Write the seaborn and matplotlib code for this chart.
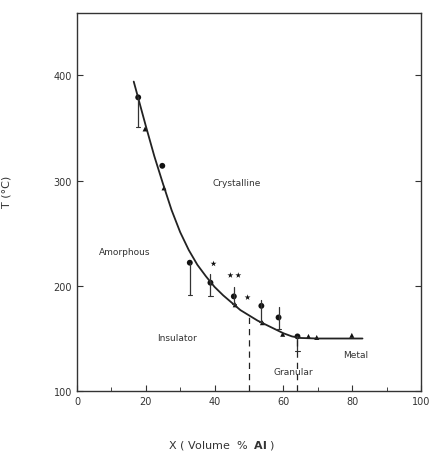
import numpy as np
import pandas as pd
import seaborn as sns
import matplotlib.pyplot as plt

# %% Data

# fitted boundary curve
curve_x = [16.5, 20, 22.5, 25, 27.5, 30, 32.5, 35, 37.5, 40, 42.5, 45, 47.5, 50, 52.5, 55, 57.5, 60, 62.5, 65, 70, 75, 83]
curve_y = [394, 352, 323, 297, 272, 251, 234, 220, 209, 199, 191, 184, 177, 172, 167, 163, 159, 155, 152, 150.5, 150, 150, 150]

# filled circles with vertical bars
circ_x = [17.8, 24.8, 32.8, 38.8, 45.6, 53.6, 58.6, 64.1]
circ_y = [379, 314, 222, 203, 190, 181, 170, 152]
circ_lo = [351, 314, 191, 190, 183, 166, 159, 138]
circ_hi = [379, 314, 222, 211, 199, 187, 180, 152]

# triangles
tri_x = [19.8, 25.3, 46.0, 53.9, 59.8, 67.3, 69.7, 79.9]
tri_y = [349, 293, 182, 165, 154, 152, 151, 153]

# stars
star_x = [39.7, 44.6, 46.9, 49.6]
star_y = [221, 210, 210, 189]

# dashed drop lines
drop_x = [50, 64]
drop_top = [172, 151]

region_labels = ['Crystalline', 'Amorphous', 'Insulator', 'Granular', 'Metal']
region_x = [46.5, 14, 29, 63, 81]
region_y = [298, 233, 151, 119, 135]

x_ticks = [0, 20, 40, 60, 80, 100]
y_ticks = [100, 200, 300, 400]

# %% Plot

sns.set_style('ticks')
plt.rcParams['font.family'] = ['DejaVu Sans']

fig = plt.figure(figsize=(4.3, 4.56), dpi=100)
ax = fig.add_axes([0.179, 0.140, 0.800, 0.829])

curve_df = pd.DataFrame({'x': curve_x, 'y': curve_y})
sns.lineplot(data=curve_df, x='x', y='y', color='#222222', lw=1.3, ax=ax, sort=False)

for x, lo, hi in zip(circ_x, circ_lo, circ_hi):
    if hi > lo:
        ax.plot([x, x], [lo, hi], color='#333333', lw=0.9)
        ax.plot([x - 0.6, x + 0.6], [lo, lo], color='#333333', lw=0.8)

sns.scatterplot(x=circ_x, y=circ_y, marker='o', s=18, color='#111111', edgecolor='none', ax=ax)
sns.scatterplot(x=tri_x, y=tri_y, marker='^', s=13, color='#111111', edgecolor='none', ax=ax)
sns.scatterplot(x=star_x, y=star_y, marker='*', s=20, color='#111111', edgecolor='none', ax=ax)

for x, top in zip(drop_x, drop_top):
    ax.plot([x, x], [100, top], color='#222222', lw=0.9, ls=(0, (5, 4)))

for lab, x, y in zip(region_labels, region_x, region_y):
    ax.text(x, y, lab, fontsize=6.5, ha='center', va='center', color='#333333')

ax.set_xlim(0, 100)
ax.set_ylim(100, 459)
ax.set_xticks(x_ticks)
ax.set_xticks(np.arange(0, 101, 10), minor=True)
ax.set_yticks(y_ticks)
ax.tick_params(axis='both', direction='in', labelsize=7, colors='#333333', length=4, width=0.8)
ax.tick_params(axis='x', which='minor', direction='in', length=3)
ax.tick_params(right=True)
ax.tick_params(axis='y', labelright=False)
for s in ax.spines.values():
    s.set_visible(True)
    s.set_linewidth(1.0)
    s.set_color('#333333')

ax.set_xlabel('X ( Volume  %  $\\mathbf{Al}$ )', fontsize=8, color='#333333')
ax.xaxis.set_label_coords(0.42, -0.125)
ax.set_ylabel('T (°C)', fontsize=8, color='#333333')
ax.yaxis.set_label_coords(-0.19, 0.53)

fig.savefig('out.png', dpi=100)
